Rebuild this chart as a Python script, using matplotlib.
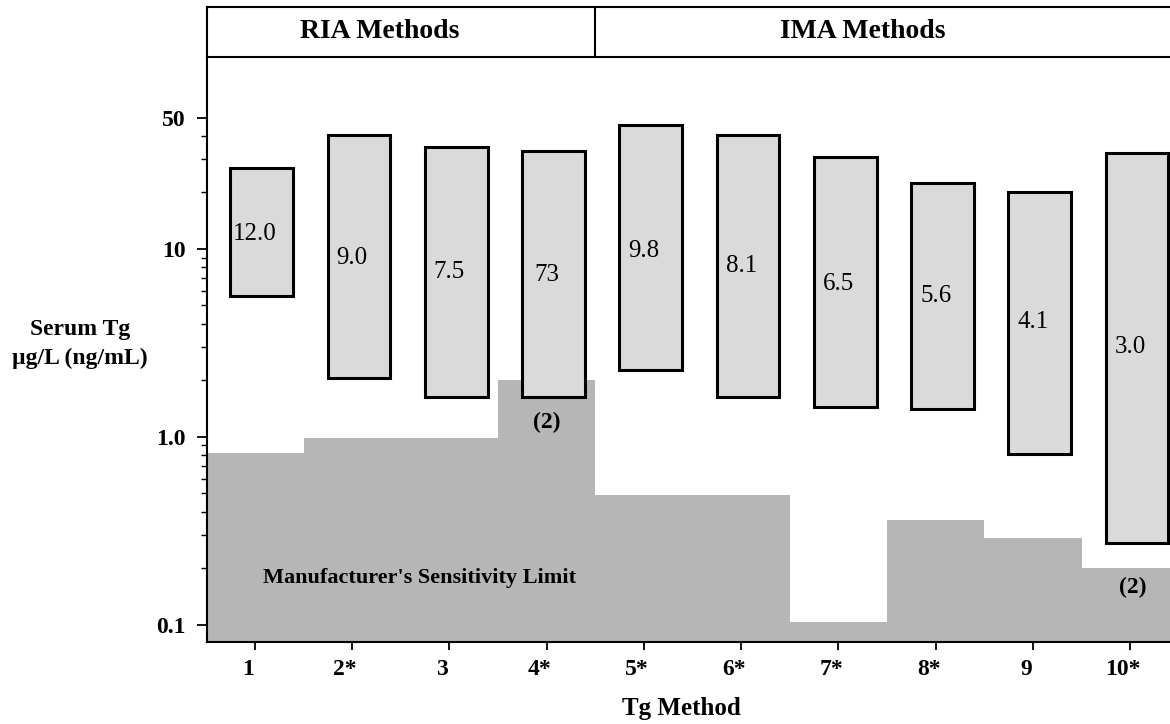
import matplotlib
matplotlib.use("Agg")
import matplotlib.pyplot as plt
import matplotlib.transforms as mtransforms
import numpy as np

plt.rcParams["font.family"] = ["Liberation Serif", "DejaVu Serif"]

# Tg methods, manufacturer sensitivity limits and the range boxes per method
methods = ["1", "2*", "3", "4*", "5*", "6*", "7*", "8*", "9", "10*"]
sens_limit = [0.82, 0.99, 0.99, 2.0, 0.49, 0.49, 0.103, 0.36, 0.29, 0.20]
box_low = [5.6, 2.05, 1.62, 1.63, 2.27, 1.63, 1.45, 1.40, 0.81, 0.274]
box_high = [27.0, 40.5, 35.0, 33.3, 45.7, 40.4, 31.0, 22.4, 20.2, 32.5]
box_mid = [12.0, 9.0, 7.5, 7.3, 9.8, 8.1, 6.5, 5.6, 4.1, 3.0]
box_text = ["12.0", "9.0", "7.5", "73", "9.8", "8.1", "6.5", "5.6", "4.1", "3.0"]
yticks = [0.1, 1.0, 10, 50]
ytick_text = ["0.1", "1.0", "10", "50"]
groups = ["RIA Methods", "IMA Methods"]

W, H = 1170, 724
fig = plt.figure(figsize=(W / 100, H / 100), dpi=100)

x = np.arange(1, len(methods) + 1)
xlim = (0.507, 10.41)

ax = fig.add_axes([207 / W, (H - 642) / H, 1 - 207 / W, (642 - 57) / H])
ax.set_yscale("log")
ax.set_xlim(*xlim)
ax.set_ylim(0.081, 105)

# manufacturer sensitivity limit as a filled staircase
edges = np.arange(0.5, len(methods) + 1.0, 1.0)
ax.stairs(sens_limit, edges, baseline=0.01, fill=True, color="#b6b6b6", lw=0)

# range boxes
lo = np.array(box_low)
hi = np.array(box_high)
ax.bar(x + 0.07, hi - lo, bottom=lo, width=0.645, color="#dadada",
       edgecolor="black", linewidth=2.2, zorder=3)
for xi, m, t in zip(x, box_mid, box_text):
    ax.text(xi, m, t, ha="center", va="center", fontsize=18, zorder=4)

ax.text(4, 1.19, "(2)", ha="center", va="center", fontsize=17,
        fontweight="bold", zorder=4)
ax.text(10.03, 0.158, "(2)", ha="center", va="center", fontsize=17,
        fontweight="bold", zorder=4)
ax.text(1.08, 0.178, "Manufacturer's Sensitivity Limit", ha="left",
        va="center", fontsize=16, fontweight="bold", zorder=4)

ax.spines["top"].set_visible(False)
ax.spines["right"].set_visible(False)
ax.spines["left"].set_linewidth(1.5)
ax.spines["bottom"].set_linewidth(1.5)

ax.set_yticks(yticks)
ax.set_yticklabels(ytick_text, fontsize=17, fontweight="bold")
minor = [v * d for d in (0.1, 1, 10) for v in range(2, 10) if v * d < 50]
ax.set_yticks(minor, minor=True)
ax.yaxis.set_minor_formatter(plt.NullFormatter())
ax.tick_params(axis="y", which="major", length=7.5, width=1.3, pad=8)
ax.tick_params(axis="y", which="minor", length=4, width=1.0)

ax.set_xticks(x)
ax.set_xticklabels(methods, fontsize=17, fontweight="bold")
ax.tick_params(axis="x", length=5.5, width=1.3, pad=7)
shift = mtransforms.ScaledTranslation(-7 / 100, 0, fig.dpi_scale_trans)
for lbl in ax.get_xticklabels():
    lbl.set_transform(lbl.get_transform() + shift)

fig.text(681 / W, 1 - 708 / H, "Tg Method", ha="center", va="center",
         fontsize=18, fontweight="bold")
fig.text(80 / W, 1 - 344 / H, "Serum Tg\n\u00b5g/L (ng/mL)", ha="center",
         va="center", fontsize=17, fontweight="bold", linespacing=1.5)

# header strip with method groups
hx = fig.add_axes([207 / W, (H - 57) / H, 1 - 207 / W, (57 - 6.5) / H])
hx.set_xlim(*xlim)
hx.set_ylim(0, 1)
hx.set_xticks([])
hx.set_yticks([])
hx.spines["right"].set_visible(False)
for s in ("top", "left", "bottom"):
    hx.spines[s].set_linewidth(1.5)
hx.axvline(4.5, color="black", lw=1.5)
hx.text(2.285, 0.5, groups[0], ha="center", va="center", fontsize=20,
        fontweight="bold")
hx.text(7.25, 0.5, groups[1], ha="center", va="center", fontsize=20,
        fontweight="bold")

fig.savefig("out.png", dpi=100)
